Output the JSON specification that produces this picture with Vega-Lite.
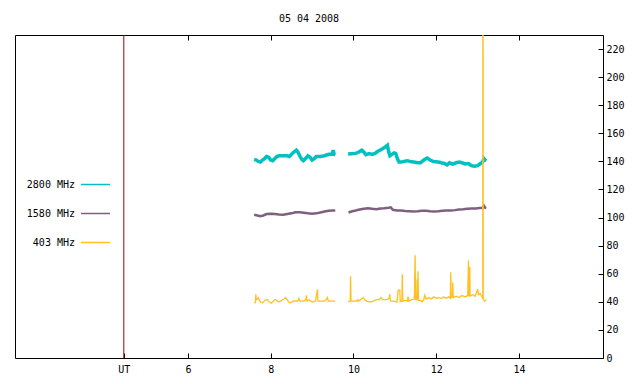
{
  "$schema": "https://vega.github.io/schema/vega-lite/v6.json",
  "width": 588,
  "height": 323,
  "autosize": {"type": "none"},
  "padding": {"left": 15, "top": 35, "right": 37, "bottom": 26},
  "background": "white",
  "config": {
    "view": {"stroke": "black", "strokeWidth": 1},
    "font": "DejaVu Sans Mono",
    "axis": {"labelFont": "DejaVu Sans Mono", "labelFontSize": 10, "labelColor": "black", "ticks": true, "tickColor": "black", "tickOpacity": 1, "tickWidth": 1, "domainColor": "black", "grid": false, "title": null, "zindex": 2},
    "legend": {"symbolStrokeWidth": 1.5}
  },
  "title": {"text": "05 04 2008", "font": "DejaVu Sans Mono", "fontSize": 10, "fontWeight": "normal", "color": "black", "baseline": "alphabetic", "offset": 3},
  "datasets": {
    "series": [
      {"band": "2800 MHz", "seg": "c1", "t": 7.60, "v": 141.5},
      {"band": "2800 MHz", "seg": "c1", "t": 7.65, "v": 141},
      {"band": "2800 MHz", "seg": "c1", "t": 7.70, "v": 140},
      {"band": "2800 MHz", "seg": "c1", "t": 7.75, "v": 139.5},
      {"band": "2800 MHz", "seg": "c1", "t": 7.80, "v": 141},
      {"band": "2800 MHz", "seg": "c1", "t": 7.85, "v": 142},
      {"band": "2800 MHz", "seg": "c1", "t": 7.90, "v": 143.5},
      {"band": "2800 MHz", "seg": "c1", "t": 7.95, "v": 143},
      {"band": "2800 MHz", "seg": "c1", "t": 8.00, "v": 141},
      {"band": "2800 MHz", "seg": "c1", "t": 8.05, "v": 140.5},
      {"band": "2800 MHz", "seg": "c1", "t": 8.10, "v": 142},
      {"band": "2800 MHz", "seg": "c1", "t": 8.15, "v": 143.5},
      {"band": "2800 MHz", "seg": "c1", "t": 8.20, "v": 144},
      {"band": "2800 MHz", "seg": "c1", "t": 8.30, "v": 144},
      {"band": "2800 MHz", "seg": "c1", "t": 8.40, "v": 144},
      {"band": "2800 MHz", "seg": "c1", "t": 8.45, "v": 143.5},
      {"band": "2800 MHz", "seg": "c1", "t": 8.50, "v": 145},
      {"band": "2800 MHz", "seg": "c1", "t": 8.55, "v": 146.5},
      {"band": "2800 MHz", "seg": "c1", "t": 8.62, "v": 148},
      {"band": "2800 MHz", "seg": "c1", "t": 8.66, "v": 146.5},
      {"band": "2800 MHz", "seg": "c1", "t": 8.70, "v": 144},
      {"band": "2800 MHz", "seg": "c1", "t": 8.75, "v": 141.5},
      {"band": "2800 MHz", "seg": "c1", "t": 8.79, "v": 140.5},
      {"band": "2800 MHz", "seg": "c1", "t": 8.84, "v": 142},
      {"band": "2800 MHz", "seg": "c1", "t": 8.90, "v": 144},
      {"band": "2800 MHz", "seg": "c1", "t": 8.95, "v": 143},
      {"band": "2800 MHz", "seg": "c1", "t": 9.00, "v": 141},
      {"band": "2800 MHz", "seg": "c1", "t": 9.05, "v": 142},
      {"band": "2800 MHz", "seg": "c1", "t": 9.10, "v": 143.5},
      {"band": "2800 MHz", "seg": "c1", "t": 9.20, "v": 143.5},
      {"band": "2800 MHz", "seg": "c1", "t": 9.30, "v": 144},
      {"band": "2800 MHz", "seg": "c1", "t": 9.40, "v": 145},
      {"band": "2800 MHz", "seg": "c1", "t": 9.48, "v": 145},
      {"band": "2800 MHz", "seg": "c1", "t": 9.51, "v": 148},
      {"band": "2800 MHz", "seg": "c1", "t": 9.53, "v": 145},
      {"band": "2800 MHz", "seg": "c1", "t": 9.56, "v": 144.5},
      {"band": "2800 MHz", "seg": "c2", "t": 9.87, "v": 145.3},
      {"band": "2800 MHz", "seg": "c2", "t": 9.95, "v": 145.5},
      {"band": "2800 MHz", "seg": "c2", "t": 10.05, "v": 145.7},
      {"band": "2800 MHz", "seg": "c2", "t": 10.12, "v": 146.5},
      {"band": "2800 MHz", "seg": "c2", "t": 10.20, "v": 148},
      {"band": "2800 MHz", "seg": "c2", "t": 10.24, "v": 147},
      {"band": "2800 MHz", "seg": "c2", "t": 10.30, "v": 144.8},
      {"band": "2800 MHz", "seg": "c2", "t": 10.38, "v": 145.5},
      {"band": "2800 MHz", "seg": "c2", "t": 10.45, "v": 145},
      {"band": "2800 MHz", "seg": "c2", "t": 10.52, "v": 145.7},
      {"band": "2800 MHz", "seg": "c2", "t": 10.58, "v": 147},
      {"band": "2800 MHz", "seg": "c2", "t": 10.64, "v": 148},
      {"band": "2800 MHz", "seg": "c2", "t": 10.70, "v": 149},
      {"band": "2800 MHz", "seg": "c2", "t": 10.76, "v": 150},
      {"band": "2800 MHz", "seg": "c2", "t": 10.82, "v": 151.5},
      {"band": "2800 MHz", "seg": "c2", "t": 10.85, "v": 147},
      {"band": "2800 MHz", "seg": "c2", "t": 10.88, "v": 144},
      {"band": "2800 MHz", "seg": "c2", "t": 10.93, "v": 145},
      {"band": "2800 MHz", "seg": "c2", "t": 10.98, "v": 146},
      {"band": "2800 MHz", "seg": "c2", "t": 11.02, "v": 145.7},
      {"band": "2800 MHz", "seg": "c2", "t": 11.06, "v": 142},
      {"band": "2800 MHz", "seg": "c2", "t": 11.10, "v": 139.5},
      {"band": "2800 MHz", "seg": "c2", "t": 11.15, "v": 139.5},
      {"band": "2800 MHz", "seg": "c2", "t": 11.22, "v": 140},
      {"band": "2800 MHz", "seg": "c2", "t": 11.30, "v": 140.5},
      {"band": "2800 MHz", "seg": "c2", "t": 11.36, "v": 140},
      {"band": "2800 MHz", "seg": "c2", "t": 11.45, "v": 139.5},
      {"band": "2800 MHz", "seg": "c2", "t": 11.55, "v": 139},
      {"band": "2800 MHz", "seg": "c2", "t": 11.62, "v": 139},
      {"band": "2800 MHz", "seg": "c2", "t": 11.70, "v": 141},
      {"band": "2800 MHz", "seg": "c2", "t": 11.78, "v": 142.4},
      {"band": "2800 MHz", "seg": "c2", "t": 11.85, "v": 141},
      {"band": "2800 MHz", "seg": "c2", "t": 11.92, "v": 140},
      {"band": "2800 MHz", "seg": "c2", "t": 11.98, "v": 139.8},
      {"band": "2800 MHz", "seg": "c2", "t": 12.05, "v": 139.5},
      {"band": "2800 MHz", "seg": "c2", "t": 12.12, "v": 139},
      {"band": "2800 MHz", "seg": "c2", "t": 12.20, "v": 138.5},
      {"band": "2800 MHz", "seg": "c2", "t": 12.26, "v": 137.5},
      {"band": "2800 MHz", "seg": "c2", "t": 12.32, "v": 139},
      {"band": "2800 MHz", "seg": "c2", "t": 12.40, "v": 138},
      {"band": "2800 MHz", "seg": "c2", "t": 12.48, "v": 139},
      {"band": "2800 MHz", "seg": "c2", "t": 12.56, "v": 139.5},
      {"band": "2800 MHz", "seg": "c2", "t": 12.62, "v": 139},
      {"band": "2800 MHz", "seg": "c2", "t": 12.70, "v": 138.2},
      {"band": "2800 MHz", "seg": "c2", "t": 12.78, "v": 138.5},
      {"band": "2800 MHz", "seg": "c2", "t": 12.85, "v": 137},
      {"band": "2800 MHz", "seg": "c2", "t": 12.92, "v": 136.5},
      {"band": "2800 MHz", "seg": "c2", "t": 13.00, "v": 137},
      {"band": "2800 MHz", "seg": "c2", "t": 13.06, "v": 138.3},
      {"band": "2800 MHz", "seg": "c2", "t": 13.12, "v": 139.5},
      {"band": "2800 MHz", "seg": "c2", "t": 13.15, "v": 142},
      {"band": "2800 MHz", "seg": "c2", "t": 13.18, "v": 141},
      {"band": "2800 MHz", "seg": "c2", "t": 13.21, "v": 140.5},
      {"band": "1580 MHz", "seg": "p1", "t": 7.60, "v": 102},
      {"band": "1580 MHz", "seg": "p1", "t": 7.68, "v": 101.5},
      {"band": "1580 MHz", "seg": "p1", "t": 7.75, "v": 101},
      {"band": "1580 MHz", "seg": "p1", "t": 7.82, "v": 101.5},
      {"band": "1580 MHz", "seg": "p1", "t": 7.90, "v": 102.5},
      {"band": "1580 MHz", "seg": "p1", "t": 8.00, "v": 102.7},
      {"band": "1580 MHz", "seg": "p1", "t": 8.10, "v": 102.5},
      {"band": "1580 MHz", "seg": "p1", "t": 8.20, "v": 102.2},
      {"band": "1580 MHz", "seg": "p1", "t": 8.30, "v": 102},
      {"band": "1580 MHz", "seg": "p1", "t": 8.40, "v": 102.5},
      {"band": "1580 MHz", "seg": "p1", "t": 8.50, "v": 103},
      {"band": "1580 MHz", "seg": "p1", "t": 8.60, "v": 103.8},
      {"band": "1580 MHz", "seg": "p1", "t": 8.70, "v": 103.8},
      {"band": "1580 MHz", "seg": "p1", "t": 8.80, "v": 103.5},
      {"band": "1580 MHz", "seg": "p1", "t": 8.90, "v": 103},
      {"band": "1580 MHz", "seg": "p1", "t": 9.00, "v": 102.7},
      {"band": "1580 MHz", "seg": "p1", "t": 9.10, "v": 103},
      {"band": "1580 MHz", "seg": "p1", "t": 9.20, "v": 103.6},
      {"band": "1580 MHz", "seg": "p1", "t": 9.30, "v": 104.3},
      {"band": "1580 MHz", "seg": "p1", "t": 9.40, "v": 104.8},
      {"band": "1580 MHz", "seg": "p1", "t": 9.50, "v": 105},
      {"band": "1580 MHz", "seg": "p1", "t": 9.56, "v": 105},
      {"band": "1580 MHz", "seg": "p2", "t": 9.88, "v": 103.6},
      {"band": "1580 MHz", "seg": "p2", "t": 9.95, "v": 104.3},
      {"band": "1580 MHz", "seg": "p2", "t": 10.05, "v": 105},
      {"band": "1580 MHz", "seg": "p2", "t": 10.15, "v": 105.8},
      {"band": "1580 MHz", "seg": "p2", "t": 10.25, "v": 106.3},
      {"band": "1580 MHz", "seg": "p2", "t": 10.35, "v": 106.7},
      {"band": "1580 MHz", "seg": "p2", "t": 10.45, "v": 106.3},
      {"band": "1580 MHz", "seg": "p2", "t": 10.55, "v": 106},
      {"band": "1580 MHz", "seg": "p2", "t": 10.65, "v": 106.5},
      {"band": "1580 MHz", "seg": "p2", "t": 10.75, "v": 106.7},
      {"band": "1580 MHz", "seg": "p2", "t": 10.85, "v": 107},
      {"band": "1580 MHz", "seg": "p2", "t": 10.90, "v": 107.3},
      {"band": "1580 MHz", "seg": "p2", "t": 10.95, "v": 105.5},
      {"band": "1580 MHz", "seg": "p2", "t": 11.05, "v": 105},
      {"band": "1580 MHz", "seg": "p2", "t": 11.15, "v": 105},
      {"band": "1580 MHz", "seg": "p2", "t": 11.25, "v": 104.7},
      {"band": "1580 MHz", "seg": "p2", "t": 11.35, "v": 104.5},
      {"band": "1580 MHz", "seg": "p2", "t": 11.45, "v": 104.3},
      {"band": "1580 MHz", "seg": "p2", "t": 11.55, "v": 104.5},
      {"band": "1580 MHz", "seg": "p2", "t": 11.65, "v": 104.8},
      {"band": "1580 MHz", "seg": "p2", "t": 11.75, "v": 104.8},
      {"band": "1580 MHz", "seg": "p2", "t": 11.85, "v": 104.5},
      {"band": "1580 MHz", "seg": "p2", "t": 11.95, "v": 104.3},
      {"band": "1580 MHz", "seg": "p2", "t": 12.05, "v": 104.5},
      {"band": "1580 MHz", "seg": "p2", "t": 12.15, "v": 104.8},
      {"band": "1580 MHz", "seg": "p2", "t": 12.25, "v": 105},
      {"band": "1580 MHz", "seg": "p2", "t": 12.35, "v": 105},
      {"band": "1580 MHz", "seg": "p2", "t": 12.45, "v": 105.3},
      {"band": "1580 MHz", "seg": "p2", "t": 12.55, "v": 105.8},
      {"band": "1580 MHz", "seg": "p2", "t": 12.65, "v": 106},
      {"band": "1580 MHz", "seg": "p2", "t": 12.75, "v": 106.3},
      {"band": "1580 MHz", "seg": "p2", "t": 12.85, "v": 106.5},
      {"band": "1580 MHz", "seg": "p2", "t": 12.95, "v": 106.5},
      {"band": "1580 MHz", "seg": "p2", "t": 13.05, "v": 106.8},
      {"band": "1580 MHz", "seg": "p2", "t": 13.12, "v": 107},
      {"band": "1580 MHz", "seg": "p2", "t": 13.15, "v": 108.5},
      {"band": "1580 MHz", "seg": "p2", "t": 13.18, "v": 107},
      {"band": "1580 MHz", "seg": "p2", "t": 13.21, "v": 106.8},
      {"band": "403 MHz", "seg": "o1", "t": 7.60, "v": 39.5},
      {"band": "403 MHz", "seg": "o1", "t": 7.63, "v": 39.5},
      {"band": "403 MHz", "seg": "o1", "t": 7.64, "v": 45.4},
      {"band": "403 MHz", "seg": "o1", "t": 7.65, "v": 41.5},
      {"band": "403 MHz", "seg": "o1", "t": 7.68, "v": 42},
      {"band": "403 MHz", "seg": "o1", "t": 7.70, "v": 43},
      {"band": "403 MHz", "seg": "o1", "t": 7.73, "v": 41},
      {"band": "403 MHz", "seg": "o1", "t": 7.76, "v": 39.5},
      {"band": "403 MHz", "seg": "o1", "t": 7.80, "v": 39.3},
      {"band": "403 MHz", "seg": "o1", "t": 7.84, "v": 40.5},
      {"band": "403 MHz", "seg": "o1", "t": 7.88, "v": 41.5},
      {"band": "403 MHz", "seg": "o1", "t": 7.92, "v": 41.5},
      {"band": "403 MHz", "seg": "o1", "t": 7.96, "v": 40},
      {"band": "403 MHz", "seg": "o1", "t": 8.01, "v": 39},
      {"band": "403 MHz", "seg": "o1", "t": 8.05, "v": 40},
      {"band": "403 MHz", "seg": "o1", "t": 8.09, "v": 41.5},
      {"band": "403 MHz", "seg": "o1", "t": 8.12, "v": 41.6},
      {"band": "403 MHz", "seg": "o1", "t": 8.16, "v": 40.5},
      {"band": "403 MHz", "seg": "o1", "t": 8.20, "v": 40},
      {"band": "403 MHz", "seg": "o1", "t": 8.24, "v": 40.5},
      {"band": "403 MHz", "seg": "o1", "t": 8.28, "v": 41.5},
      {"band": "403 MHz", "seg": "o1", "t": 8.33, "v": 42},
      {"band": "403 MHz", "seg": "o1", "t": 8.36, "v": 43},
      {"band": "403 MHz", "seg": "o1", "t": 8.40, "v": 41.5},
      {"band": "403 MHz", "seg": "o1", "t": 8.43, "v": 40},
      {"band": "403 MHz", "seg": "o1", "t": 8.46, "v": 39.3},
      {"band": "403 MHz", "seg": "o1", "t": 8.50, "v": 39.5},
      {"band": "403 MHz", "seg": "o1", "t": 8.54, "v": 40.5},
      {"band": "403 MHz", "seg": "o1", "t": 8.56, "v": 40.7},
      {"band": "403 MHz", "seg": "o1", "t": 8.65, "v": 40.5},
      {"band": "403 MHz", "seg": "o1", "t": 8.68, "v": 42.4},
      {"band": "403 MHz", "seg": "o1", "t": 8.70, "v": 40.5},
      {"band": "403 MHz", "seg": "o1", "t": 8.80, "v": 40.5},
      {"band": "403 MHz", "seg": "o1", "t": 8.85, "v": 41.5},
      {"band": "403 MHz", "seg": "o1", "t": 8.86, "v": 44.7},
      {"band": "403 MHz", "seg": "o1", "t": 8.88, "v": 40.5},
      {"band": "403 MHz", "seg": "o1", "t": 8.93, "v": 41.5},
      {"band": "403 MHz", "seg": "o1", "t": 8.97, "v": 40.5},
      {"band": "403 MHz", "seg": "o1", "t": 9.00, "v": 40},
      {"band": "403 MHz", "seg": "o1", "t": 9.05, "v": 40},
      {"band": "403 MHz", "seg": "o1", "t": 9.08, "v": 40.5},
      {"band": "403 MHz", "seg": "o1", "t": 9.13, "v": 48.8},
      {"band": "403 MHz", "seg": "o1", "t": 9.14, "v": 40.5},
      {"band": "403 MHz", "seg": "o1", "t": 9.30, "v": 40.5},
      {"band": "403 MHz", "seg": "o1", "t": 9.34, "v": 41.5},
      {"band": "403 MHz", "seg": "o1", "t": 9.37, "v": 43.1},
      {"band": "403 MHz", "seg": "o1", "t": 9.39, "v": 40.5},
      {"band": "403 MHz", "seg": "o1", "t": 9.56, "v": 40.5},
      {"band": "403 MHz", "seg": "o2", "t": 9.87, "v": 40},
      {"band": "403 MHz", "seg": "o2", "t": 9.92, "v": 40.5},
      {"band": "403 MHz", "seg": "o2", "t": 9.93, "v": 58.2},
      {"band": "403 MHz", "seg": "o2", "t": 9.94, "v": 40.5},
      {"band": "403 MHz", "seg": "o2", "t": 10.08, "v": 40.5},
      {"band": "403 MHz", "seg": "o2", "t": 10.10, "v": 41.5},
      {"band": "403 MHz", "seg": "o2", "t": 10.12, "v": 40.5},
      {"band": "403 MHz", "seg": "o2", "t": 10.24, "v": 43},
      {"band": "403 MHz", "seg": "o2", "t": 10.27, "v": 41.5},
      {"band": "403 MHz", "seg": "o2", "t": 10.32, "v": 40.5},
      {"band": "403 MHz", "seg": "o2", "t": 10.40, "v": 39.8},
      {"band": "403 MHz", "seg": "o2", "t": 10.48, "v": 40.5},
      {"band": "403 MHz", "seg": "o2", "t": 10.55, "v": 41.5},
      {"band": "403 MHz", "seg": "o2", "t": 10.62, "v": 41.5},
      {"band": "403 MHz", "seg": "o2", "t": 10.66, "v": 43},
      {"band": "403 MHz", "seg": "o2", "t": 10.70, "v": 41.5},
      {"band": "403 MHz", "seg": "o2", "t": 10.80, "v": 41.5},
      {"band": "403 MHz", "seg": "o2", "t": 10.86, "v": 42.5},
      {"band": "403 MHz", "seg": "o2", "t": 10.88, "v": 45.4},
      {"band": "403 MHz", "seg": "o2", "t": 10.89, "v": 40.5},
      {"band": "403 MHz", "seg": "o2", "t": 10.98, "v": 40.5},
      {"band": "403 MHz", "seg": "o2", "t": 11.05, "v": 39.8},
      {"band": "403 MHz", "seg": "o2", "t": 11.08, "v": 48.3},
      {"band": "403 MHz", "seg": "o2", "t": 11.12, "v": 48.3},
      {"band": "403 MHz", "seg": "o2", "t": 11.13, "v": 40},
      {"band": "403 MHz", "seg": "o2", "t": 11.17, "v": 40.5},
      {"band": "403 MHz", "seg": "o2", "t": 11.18, "v": 59.6},
      {"band": "403 MHz", "seg": "o2", "t": 11.19, "v": 40.5},
      {"band": "403 MHz", "seg": "o2", "t": 11.25, "v": 41},
      {"band": "403 MHz", "seg": "o2", "t": 11.30, "v": 40.5},
      {"band": "403 MHz", "seg": "o2", "t": 11.32, "v": 43.8},
      {"band": "403 MHz", "seg": "o2", "t": 11.34, "v": 40.5},
      {"band": "403 MHz", "seg": "o2", "t": 11.40, "v": 41.5},
      {"band": "403 MHz", "seg": "o2", "t": 11.47, "v": 42},
      {"band": "403 MHz", "seg": "o2", "t": 11.49, "v": 73.1},
      {"band": "403 MHz", "seg": "o2", "t": 11.50, "v": 42},
      {"band": "403 MHz", "seg": "o2", "t": 11.53, "v": 41.5},
      {"band": "403 MHz", "seg": "o2", "t": 11.54, "v": 56},
      {"band": "403 MHz", "seg": "o2", "t": 11.55, "v": 42},
      {"band": "403 MHz", "seg": "o2", "t": 11.56, "v": 61.7},
      {"band": "403 MHz", "seg": "o2", "t": 11.57, "v": 41},
      {"band": "403 MHz", "seg": "o2", "t": 11.62, "v": 41},
      {"band": "403 MHz", "seg": "o2", "t": 11.66, "v": 40},
      {"band": "403 MHz", "seg": "o2", "t": 11.70, "v": 41.5},
      {"band": "403 MHz", "seg": "o2", "t": 11.72, "v": 44.7},
      {"band": "403 MHz", "seg": "o2", "t": 11.76, "v": 42},
      {"band": "403 MHz", "seg": "o2", "t": 11.82, "v": 43},
      {"band": "403 MHz", "seg": "o2", "t": 11.88, "v": 42},
      {"band": "403 MHz", "seg": "o2", "t": 11.94, "v": 43.5},
      {"band": "403 MHz", "seg": "o2", "t": 12.00, "v": 42.5},
      {"band": "403 MHz", "seg": "o2", "t": 12.06, "v": 43},
      {"band": "403 MHz", "seg": "o2", "t": 12.12, "v": 42.5},
      {"band": "403 MHz", "seg": "o2", "t": 12.18, "v": 43.5},
      {"band": "403 MHz", "seg": "o2", "t": 12.24, "v": 42.5},
      {"band": "403 MHz", "seg": "o2", "t": 12.30, "v": 43.5},
      {"band": "403 MHz", "seg": "o2", "t": 12.34, "v": 42.5},
      {"band": "403 MHz", "seg": "o2", "t": 12.35, "v": 61},
      {"band": "403 MHz", "seg": "o2", "t": 12.36, "v": 43},
      {"band": "403 MHz", "seg": "o2", "t": 12.39, "v": 43.5},
      {"band": "403 MHz", "seg": "o2", "t": 12.40, "v": 54},
      {"band": "403 MHz", "seg": "o2", "t": 12.41, "v": 43},
      {"band": "403 MHz", "seg": "o2", "t": 12.48, "v": 44},
      {"band": "403 MHz", "seg": "o2", "t": 12.55, "v": 43},
      {"band": "403 MHz", "seg": "o2", "t": 12.62, "v": 44.5},
      {"band": "403 MHz", "seg": "o2", "t": 12.70, "v": 43.5},
      {"band": "403 MHz", "seg": "o2", "t": 12.76, "v": 44.5},
      {"band": "403 MHz", "seg": "o2", "t": 12.78, "v": 69.5},
      {"band": "403 MHz", "seg": "o2", "t": 12.79, "v": 44},
      {"band": "403 MHz", "seg": "o2", "t": 12.81, "v": 64.8},
      {"band": "403 MHz", "seg": "o2", "t": 12.82, "v": 44},
      {"band": "403 MHz", "seg": "o2", "t": 12.88, "v": 45},
      {"band": "403 MHz", "seg": "o2", "t": 12.94, "v": 44},
      {"band": "403 MHz", "seg": "o2", "t": 13.00, "v": 49},
      {"band": "403 MHz", "seg": "o2", "t": 13.02, "v": 45},
      {"band": "403 MHz", "seg": "o2", "t": 13.06, "v": 46},
      {"band": "403 MHz", "seg": "o2", "t": 13.10, "v": 44},
      {"band": "403 MHz", "seg": "o2", "t": 13.125, "v": 42},
      {"band": "403 MHz", "seg": "o2", "t": 13.13, "v": 500},
      {"band": "403 MHz", "seg": "o2", "t": 13.135, "v": 42},
      {"band": "403 MHz", "seg": "o2", "t": 13.17, "v": 40.5},
      {"band": "403 MHz", "seg": "o2", "t": 13.21, "v": 41.5}
    ],
    "marker": [{"t": 4.45}]
  },
  "layer": [
    {
      "data": {"name": "series"},
      "encoding": {
        "x": {
          "field": "t", "type": "quantitative",
          "scale": {"domain": [1.82, 16.03], "nice": false, "zero": false},
          "axis": {"orient": "bottom", "values": [4.45, 6, 8, 10, 12, 14], "labelExpr": "datum.value < 5 ? 'UT' : datum.label", "labelColor": "black", "ticks": true, "offset": -5, "tickSize": 5, "labelPadding": 6, "domain": false}
        },
        "y": {
          "field": "v", "type": "quantitative",
          "scale": {"domain": [0, 230], "nice": false},
          "axis": {"orient": "right", "values": [0, 20, 40, 60, 80, 100, 120, 140, 160, 180, 200, 220], "ticks": true, "offset": -5, "tickSize": 5, "labelPadding": 3, "domain": false}
        },
        "detail": {"field": "seg"},
        "color": {
          "field": "band", "type": "nominal",
          "scale": {"domain": ["2800 MHz", "1580 MHz", "403 MHz"], "range": ["#00c0c0", "#7f5f7f", "#ffc020"]},
          "legend": {
            "orient": "none", "legendX": 65, "legendY": 134, "title": null,
            "symbolType": "stroke", "symbolSize": 841, "symbolStrokeWidth": 1.5,
            "labelAlign": "right", "labelOffset": -36, "labelFont": "DejaVu Sans Mono", "labelFontSize": 10, "labelColor": "black",
            "padding": 0, "rowPadding": 8,
            "encode": {"symbols": {"update": {"strokeWidth": {"value": 1.5}}}}
          }
        }
      },
      "layer": [
        {
          "transform": [{"filter": "datum.band === '2800 MHz'"}],
          "mark": {"type": "line", "clip": true, "strokeWidth": 3.5}
        },
        {
          "transform": [{"filter": "datum.band === '1580 MHz'"}],
          "mark": {"type": "line", "clip": true, "strokeWidth": 2.5}
        },
        {
          "transform": [{"filter": "datum.band === '403 MHz'"}],
          "mark": {"type": "line", "clip": true, "strokeWidth": 1.3}
        }
      ]
    },
    {
      "data": {"name": "marker"},
      "mark": {"type": "rule", "color": "#a00000", "strokeWidth": 1},
      "encoding": {
        "x": {
          "field": "t", "type": "quantitative",
          "axis": {"orient": "top", "values": [6, 8, 10, 12, 14], "labels": false, "ticks": true, "offset": -5, "tickSize": 5, "domain": false}
        }
      }
    }
  ],
  "resolve": {"axis": {"x": "independent"}}
}
